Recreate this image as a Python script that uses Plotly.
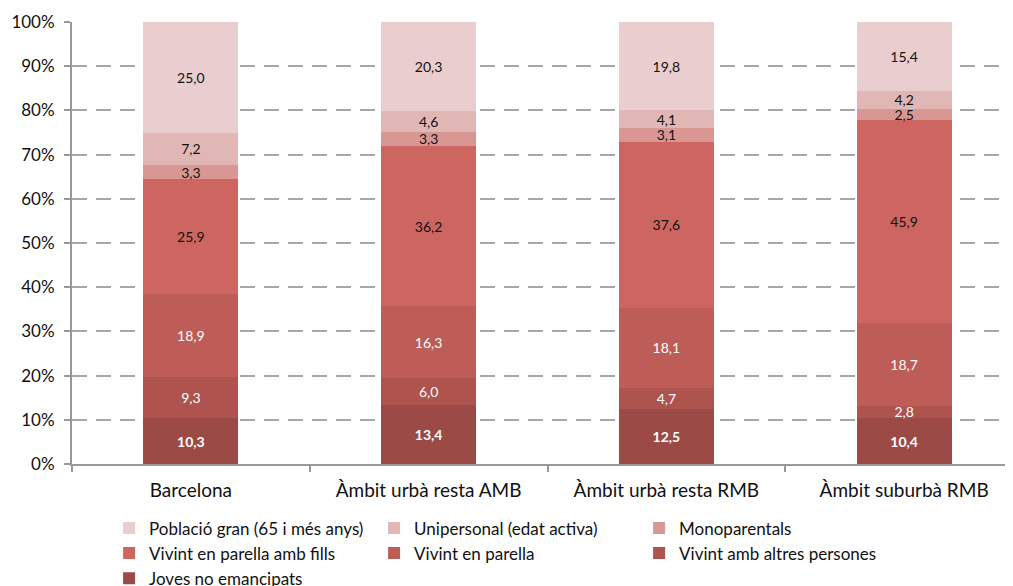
import plotly.graph_objects as go

categories = ['Barcelona', 'Àmbit urbà resta AMB', 'Àmbit urbà resta RMB', 'Àmbit suburbà RMB']

# stacked from bottom to top
series_names = [
    'Joves no emancipats',
    'Vivint amb altres persones',
    'Vivint en parella',
    'Vivint en parella amb fills',
    'Monoparentals',
    'Unipersonal (edat activa)',
    'Població gran (65 i més anys)',
]
joves = [10.3, 13.4, 12.5, 10.4]
altres = [9.3, 6.0, 4.7, 2.8]
parella = [18.9, 16.3, 18.1, 18.7]
fills = [25.9, 36.2, 37.6, 45.9]
monoparentals = [3.3, 3.3, 3.1, 2.5]
unipersonal = [7.2, 4.6, 4.1, 4.2]
gran = [25.0, 20.3, 19.8, 15.4]
series_values = [joves, altres, parella, fills, monoparentals, unipersonal, gran]

y_ticks = [0, 10, 20, 30, 40, 50, 60, 70, 80, 90, 100]

colors = ['#9C4A45', '#AE534E', '#BE5C57', '#CD6660', '#D99794', '#E1B7B6', '#EACDCF']
text_colors = ['white', 'white', 'white', '#111111', '#111111', '#111111', '#111111']

FONT = 'Lato, Open Sans, sans-serif'

fig = go.Figure()
for i, (name, vals) in enumerate(zip(series_names, series_values)):
    labels = [f'{v:.1f}'.replace('.', ',') for v in vals]
    if i == 0:
        labels = [f'<b>{t}</b>' for t in labels]
    fig.add_trace(go.Bar(
        x=categories,
        y=vals,
        name=name,
        legendrank=100 - i,
        marker=dict(color=colors[i], line=dict(width=0)),
        text=labels,
        textposition='inside',
        insidetextanchor='middle',
        textangle=0,
        textfont=dict(size=14, color=text_colors[i], family=FONT),
        constraintext='none',
    ))

fig.update_layout(
    barmode='stack',
    bargap=0.60,
    width=1021,
    height=586,
    margin=dict(l=64, r=6, t=14, b=130, autoexpand=False),
    paper_bgcolor='white',
    plot_bgcolor='white',
    font=dict(family=FONT, size=17, color='#111111'),
    uniformtext=dict(minsize=8, mode='show'),
    legend=dict(
        orientation='h',
        traceorder='normal',
        x=0.039,
        xanchor='left',
        y=-0.105,
        yanchor='top',
        entrywidth=220,
        entrywidthmode='pixels',
        itemwidth=30,
        font=dict(size=17, family=FONT),
    ),
)
fig.update_yaxes(
    range=[0, 100],
    tickvals=y_ticks,
    ticktext=[f'{v}%' for v in y_ticks],
    showgrid=True,
    gridcolor='#A6A6A6',
    gridwidth=2,
    griddash='15px,9px',
    showline=True,
    linecolor='#999999',
    linewidth=2,
    ticks='outside',
    ticklen=6,
    tickcolor='#999999',
    tickwidth=2,
    ticklabelstandoff=6,
    tickfont=dict(size=17),
    zeroline=False,
)
fig.update_xaxes(
    showline=True,
    linecolor='#999999',
    linewidth=2,
    ticks='outside',
    tickson='boundaries',
    ticklen=6,
    tickcolor='#999999',
    tickwidth=2,
    ticklabelstandoff=8,
    tickfont=dict(size=19),
)

fig.write_html('out.html')
